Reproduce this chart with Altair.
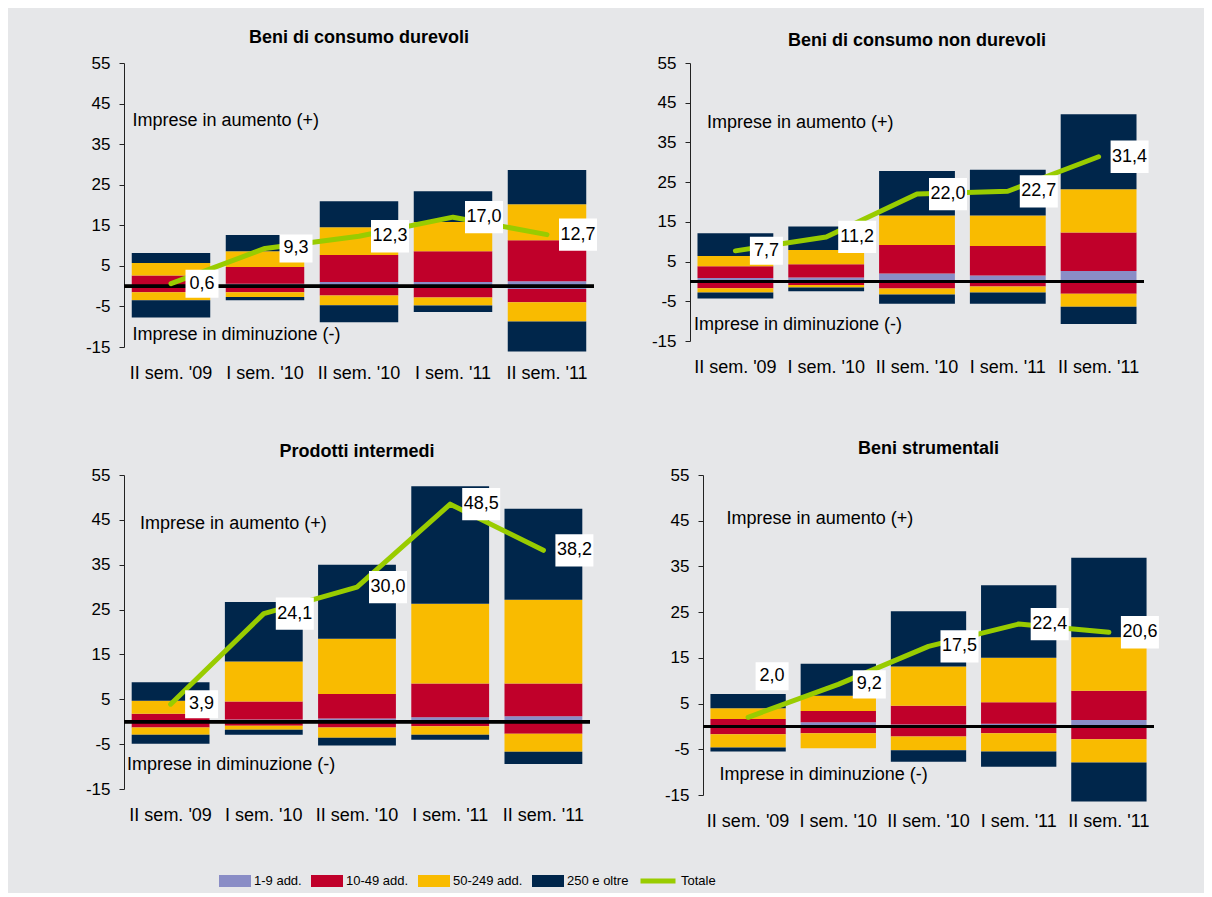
import altair as alt
import pandas as pd

periods = ["II sem. '09", "I sem. '10", "II sem. '10", "I sem. '11", "II sem. '11"]
classes = ["1-9 add.", "10-49 add.", "50-249 add.", "250 e oltre"]
class_colors = ["#8A8DC6", "#C0002A", "#F9BB00", "#00264B"]

# --- Beni di consumo durevoli ---
durevoli_aum = {"1-9 add.": [0.2, 0.6, 1.0, 1.0, 1.2],
                "10-49 add.": [2.4, 4.1, 6.7, 7.6, 10.1],
                "50-249 add.": [3.1, 3.9, 6.8, 7.2, 8.9],
                "250 e oltre": [2.45, 4.0, 6.4, 7.6, 8.4]}
durevoli_dim = {"1-9 add.": [0.0, 0.0, 0.0, 0.0, -0.7],
                "10-49 add.": [-1.5, -1.5, -2.3, -2.8, -3.3],
                "50-249 add.": [-2.0, -1.2, -2.4, -2.0, -4.7],
                "250 e oltre": [-4.2, -0.8, -4.2, -1.6, -7.4]}
durevoli_tot = [0.6, 9.3, 12.3, 17.0, 12.7]

# --- Beni di consumo non durevoli ---
nondurevoli_aum = {"1-9 add.": [0.85, 1.0, 2.0, 1.5, 2.6],
                   "10-49 add.": [2.95, 3.3, 7.2, 7.4, 9.7],
                   "50-249 add.": [2.6, 3.6, 7.4, 7.7, 10.9],
                   "250 e oltre": [5.7, 5.9, 11.2, 11.5, 18.9]}
nondurevoli_dim = {"1-9 add.": [0.0, 0.0, 0.0, 0.0, 0.0],
                   "10-49 add.": [-1.7, -0.9, -1.8, -1.3, -3.1],
                   "50-249 add.": [-1.1, -0.6, -1.5, -1.5, -3.3],
                   "250 e oltre": [-1.5, -1.0, -2.3, -2.8, -4.3]}
nondurevoli_tot = [7.7, 11.2, 22.0, 22.7, 31.4]

# --- Prodotti intermedi ---
intermedi_aum = {"1-9 add.": [0.1, 0.5, 0.7, 1.0, 1.2],
                 "10-49 add.": [1.7, 4.0, 5.5, 7.5, 7.3],
                 "50-249 add.": [2.9, 8.9, 12.3, 17.8, 18.7],
                 "250 e oltre": [4.1, 13.3, 16.5, 26.2, 20.3]}
intermedi_dim = {"1-9 add.": [0.0, 0.0, 0.0, 0.0, 0.0],
                 "10-49 add.": [-1.3, -0.9, -1.3, -1.0, -2.7],
                 "50-249 add.": [-1.6, -0.9, -2.3, -1.9, -4.0],
                 "250 e oltre": [-2.0, -1.1, -1.7, -1.1, -2.7]}
intermedi_tot = [3.9, 24.1, 30.0, 48.5, 38.2]

# --- Beni strumentali ---
strumentali_aum = {"1-9 add.": [0.1, 0.9, 0.4, 0.6, 1.4],
                   "10-49 add.": [1.5, 2.5, 4.1, 4.7, 6.4],
                   "50-249 add.": [2.4, 3.3, 8.6, 9.7, 11.7],
                   "250 e oltre": [3.1, 7.0, 12.1, 15.9, 17.4]}
strumentali_dim = {"1-9 add.": [0.0, 0.0, 0.0, 0.0, 0.0],
                   "10-49 add.": [-1.7, -1.5, -2.2, -1.5, -2.8],
                   "50-249 add.": [-2.9, -3.3, -3.0, -4.0, -5.1],
                   "250 e oltre": [-0.9, 0.0, -2.5, -3.3, -8.5]}
strumentali_tot = [2.0, 9.2, 17.5, 22.4, 20.6]

y_ticks = [-15, -5, 5, 15, 25, 35, 45, 55]

FONT = "Liberation Sans, Arial, sans-serif"
BOX = "M-1,-0.85L1,-0.85L1,0.85L-1,0.85Z"
LEG_RECT = "M-1,-0.375L1,-0.375L1,0.375L-1,0.375Z"


def bars_frame(aum, dim):
    rows = []
    for ci, c in enumerate(classes):
        for k, p in enumerate(periods):
            rows.append({"periodo": p, "classe": c, "valore": aum[c][k], "ord": ci})
            rows.append({"periodo": p, "classe": c, "valore": dim[c][k], "ord": ci})
    return pd.DataFrame(rows)


color_legend = alt.Legend(
    title=None, orient="none", direction="horizontal", legendX=95, legendY=802,
    symbolType=LEG_RECT, symbolSize=1024, symbolStrokeWidth=0, symbolOpacity=1,
    labelFont=FONT, labelFontSize=13, labelColor="black",
    labelOffset=3, columnPadding=9, padding=0,
)
line_legend = alt.Legend(
    title=None, orient="none", direction="horizontal", legendX=514, legendY=798,
    symbolType="stroke", symbolSize=1225, symbolStrokeWidth=5,
    labelFont=FONT, labelFontSize=13, labelColor="black",
    labelOffset=3, padding=0,
)


def panel(title, aum, dim, tot, w, h, ann, raise_first=False, title_offset=8):
    bdf = bars_frame(aum, dim)
    tdf = pd.DataFrame({"periodo": periods, "tot": tot, "serie": ["Totale"] * len(periods)})

    x = alt.X("periodo:N", sort=periods,
              scale=alt.Scale(paddingInner=0.165, paddingOuter=0.0825),
              axis=alt.Axis(title=None, labelAngle=0, ticks=False, tickSize=0, domain=False,
                            labelPadding=17, labelFontSize=18, labelFont=FONT,
                            labelColor="black", labelOverlap=False))
    yscale = alt.Scale(domain=[-15, 55], nice=False, zero=False)
    y = alt.Y("valore:Q", stack="zero", scale=yscale,
              axis=alt.Axis(values=y_ticks, tickCount=len(y_ticks) + 2, title=None, grid=False,
                            tickSize=5, labelPadding=9, domainColor="#222", tickColor="#222",
                            labelFontSize=17, labelFont=FONT, labelColor="black",
                            labelOverlap=False, labelExpr="datum.value + ''"))

    bars = alt.Chart(bdf).mark_bar(strokeWidth=0).encode(
        x=x, y=y,
        color=alt.Color("classe:N", scale=alt.Scale(domain=classes, range=class_colors),
                        legend=color_legend),
        order=alt.Order("ord:Q"),
    )
    rule = alt.Chart(tdf).mark_rule(color="black", strokeWidth=3).encode(y=alt.datum(0))
    line = alt.Chart(tdf).mark_line(strokeWidth=5, strokeCap="round", strokeJoin="round").encode(
        x=alt.X("periodo:N", sort=periods), y=alt.Y("tot:Q"),
        stroke=alt.Stroke("serie:N", scale=alt.Scale(domain=["Totale"], range=["#99CC00"]),
                          legend=line_legend),
    )
    lab = alt.Chart(tdf).transform_calculate(
        lab="replace(format(datum.tot, '.1f'), '.', ',')",
        bsize="length(datum.lab) > 3 ? 1444 : 1089",
    )
    first = f"datum.periodo == \"{periods[0]}\""
    layers = [bars, rule, line]
    if raise_first:
        rest = lab.transform_filter("!(" + first + ")")
        one = lab.transform_filter(first)
        layers += [
            rest.mark_point(shape=BOX, filled=True, color="white", opacity=1, xOffset=31).encode(
                x=alt.X("periodo:N", sort=periods), y="tot:Q", size=alt.Size("bsize:Q", scale=None)),
            one.mark_point(shape=BOX, filled=True, color="white", opacity=1, xOffset=24, yOffset=-41).encode(
                x=alt.X("periodo:N", sort=periods), y="tot:Q", size=alt.Size("bsize:Q", scale=None)),
            rest.mark_text(dx=31, fontSize=18, font=FONT, color="black").encode(
                x=alt.X("periodo:N", sort=periods), y="tot:Q", text="lab:N"),
            one.mark_text(dx=24, dy=-41, fontSize=18, font=FONT, color="black").encode(
                x=alt.X("periodo:N", sort=periods), y="tot:Q", text="lab:N"),
        ]
    else:
        layers += [
            lab.mark_point(shape=BOX, filled=True, color="white", opacity=1, xOffset=31).encode(
                x=alt.X("periodo:N", sort=periods), y="tot:Q", size=alt.Size("bsize:Q", scale=None)),
            lab.mark_text(dx=31, fontSize=18, font=FONT, color="black").encode(
                x=alt.X("periodo:N", sort=periods), y="tot:Q", text="lab:N"),
        ]
    one_row = pd.DataFrame({"k": [0]})
    for text, yv, dx in ann:
        layers.append(alt.Chart(one_row).mark_text(align="left", baseline="middle", dx=dx,
                                                   fontSize=18, font=FONT, color="black").encode(
            x=alt.datum(periods[0]), y=alt.datum(yv), text=alt.value(text)))

    return alt.layer(*layers).properties(
        width=w, height=h,
        title=alt.TitleParams(title, fontSize=18, font=FONT, fontWeight="bold", color="black",
                              anchor="middle", offset=title_offset),
    )


p1 = panel("Beni di consumo durevoli", durevoli_aum, durevoli_dim, durevoli_tot, 470, 284,
           [("Imprese in aumento (+)", 40.7, -38.5), ("Imprese in diminuzione (-)", -12.1, -38.5)],
           title_offset=7)
p2 = panel("Beni di consumo non durevoli", nondurevoli_aum, nondurevoli_dim, nondurevoli_tot, 454, 278,
           [("Imprese in aumento (+)", 39.9, -28.5), ("Imprese in diminuzione (-)", -11.0, -41.5)],
           title_offset=4)
p3 = panel("Prodotti intermedi", intermedi_aum, intermedi_dim, intermedi_tot, 466, 314,
           [("Imprese in aumento (+)", 44.1, -30.5), ("Imprese in diminuzione (-)", -9.7, -43.5)],
           title_offset=5)
p4 = panel("Beni strumentali", strumentali_aum, strumentali_dim, strumentali_tot, 451, 320,
           [("Imprese in aumento (+)", 45.4, -21.5), ("Imprese in diminuzione (-)", -10.6, -28.5)],
           raise_first=True, title_offset=8)

row1 = alt.hconcat(p1, p2, spacing=54)
row2 = alt.hconcat(p3, p4, spacing=70)
chart = alt.vconcat(row1, row2, spacing=58).properties(
    background="#E6E7E9",
    padding={"left": 77, "top": 21, "right": 45, "bottom": 2},
).configure_view(stroke=None)

chart.save("out.html", embed_options={"renderer": "svg", "actions": False})
